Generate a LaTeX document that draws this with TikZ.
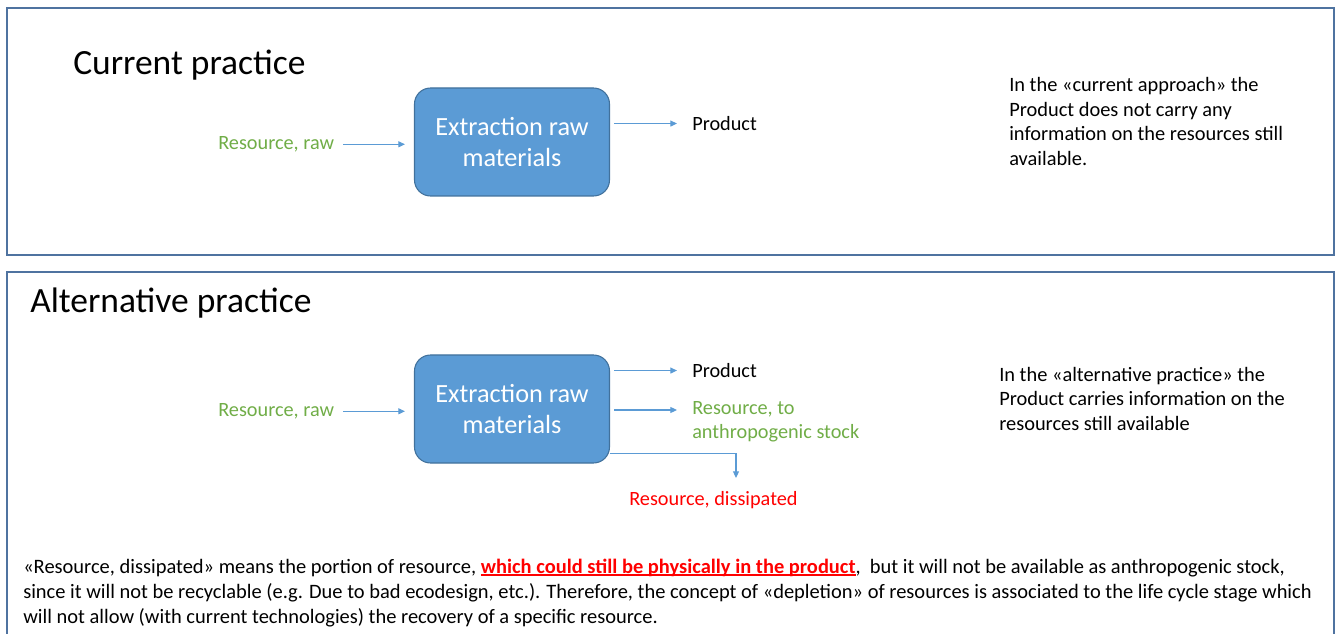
\documentclass[tikz,border=0pt]{standalone}
\usepackage{fontspec}
\setmainfont{Carlito}
\usetikzlibrary{arrows.meta,calc}
\definecolor{flowblue}{HTML}{5B9BD5}
\definecolor{boxedge}{HTML}{41719C}
\definecolor{frameblue}{HTML}{4F73A0}
\definecolor{resgreen}{HTML}{70AD47}
\definecolor{resred}{HTML}{FF0000}
% underline drawn close to the baseline, in the current text colour
\newcommand\lowul[1]{\setbox0\hbox{#1}\rlap{\rule[-1.9pt]{\wd0}{0.85pt}}\box0}
\begin{document}
\begin{tikzpicture}[x=0.75pt,y=-0.75pt,
  frame/.style={draw=frameblue,line width=0.8pt},
  title/.style={anchor=base west,inner sep=0pt,font=\fontsize{26.6}{30}\selectfont},
  process/.style={draw=boxedge,line width=0.8pt,fill=flowblue,rounded corners=12pt,
    minimum width=146.25pt,minimum height=81pt,text=white,align=center,inner sep=0pt,
    font=\fontsize{19.7}{23}\selectfont},
  lbl/.style={anchor=base west,inner sep=0pt,font=\fontsize{15.2}{18}\selectfont},
  note/.style={anchor=base west,inner sep=0pt,align=left,font=\fontsize{15.3}{18.5}\selectfont},
  flow/.style={draw=flowblue,line width=0.8pt,-{Triangle[length=5pt,width=4.5pt]}}]
\useasboundingbox (0,0) rectangle (1338,634);
\begin{scope}
\clip (0,0) rectangle (1338,634);
% panel frames
\draw[frame] (7,8) rectangle (1334,255);
\draw[frame] (7,272) rectangle (1334,660);
\end{scope}

% ---- current practice ----
\node[title] (t1) at (73,74.5) {Current practice};
\node[process] (boxA) at (512,142) {Extraction raw\\materials};
\node[lbl,text=resgreen] (rawA) at (218,149.5) {Resource, raw};
\node[lbl] (prodA) at (692,130.5) {Product};
% multi-line notes are placed by the baseline of their last line
\node[note] (noteA) at (1009,165.5) {In the «current approach» the\\Product does not carry any\\information on the resources still\\available.};
\draw[flow] ($(rawA.east)+(9,0)$) -- ($(boxA.west |- rawA.east)+(-9,0)$);
\draw[flow] ($(boxA.east |- prodA.west)+(4,0)$) -- ($(prodA.west)+(-15,0)$);

% ---- alternative practice ----
\node[title] (t2) at (30,312.5) {Alternative practice};
\node[process] (boxB) at (512,409) {Extraction raw\\materials};
\node[lbl,text=resgreen] (rawB) at (218,416.5) {Resource, raw};
\node[lbl] (prodB) at (692,377.5) {Product};
\node[lbl,text=resgreen,align=left,font=\fontsize{15.2}{18}\selectfont] (stock) at (692,438.5) {Resource, to\\anthropogenic stock};
\node[lbl,text=resred] (diss) at (629,505.5) {Resource, dissipated};
\coordinate (dissEnd) at (736,478);
\node[note] (noteB) at (999,430.5) {In the «alternative practice» the\\Product carries information on the\\resources still available};
\draw[flow] ($(rawB.east)+(9,0)$) -- ($(boxB.west |- rawB.east)+(-9,0)$);
\draw[flow] ($(boxB.east |- prodB.west)+(4,0)$) -- ($(prodB.west)+(-15,0)$);
\draw[flow] ($(boxB.east)+(4,1)$) -- ($(stock.west |- boxB.east)+(-15,1)$);
\draw[flow] ($(boxB.south east)+(0,-10)$) -| (dissEnd);

% ---- explanation ----
\node[note,font=\fontsize{15.35}{18.75}\selectfont] (expl) at (23,623) {«Resource, dissipated» means the portion of resource, {\color{resred}\bfseries\lowul{which could still be physically in the product}},\ \ but it will not be available as anthropogenic stock,\\since it will not be recyclable (e.g. Due to bad ecodesign, etc.). Therefore, the concept of «depletion» of resources is associated to the life cycle stage which\\will not allow (with current technologies) the recovery of a specific resource.};
\end{tikzpicture}
\end{document}
